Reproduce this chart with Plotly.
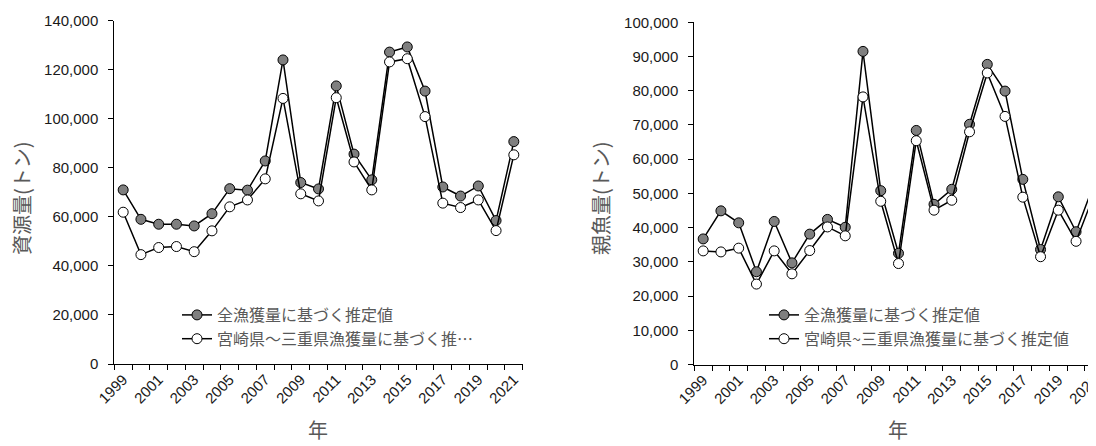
import plotly.graph_objects as go

years = list(range(1999, 2022))

# 資源量 (left)
stock_all = [71000, 59000, 57000, 57000, 56300, 61300, 71500, 70900, 82800, 124000,
             74000, 71400, 113400, 85600, 75100, 127200, 129300, 111300, 72200, 68500,
             72600, 58500, 90700]
stock_reg = [61900, 44600, 47500, 47900, 45800, 54300, 64100, 66900, 75500, 108300,
             69400, 66500, 108600, 82400, 71000, 123200, 124500, 100900, 65600, 63800,
             66900, 54400, 85300]

# 親魚量 (right)
spawn_all = [36700, 44900, 41400, 27100, 41800, 29700, 38100, 42400, 40100, 91500,
             50800, 32500, 68400, 46800, 51200, 70200, 87700, 79900, 54100, 33600,
             49000, 38800, 52600]
spawn_reg = [33200, 32900, 34000, 23500, 33200, 26500, 33300, 40200, 37600, 78200,
             47700, 29500, 65400, 45100, 48000, 68000, 85200, 72500, 48900, 31500,
             45100, 36000, 49500]

name_all = "全漁獲量に基づく推定値"
name_reg_left = "宮崎県～三重県漁獲量に基づく推…"
name_reg_right = "宮崎県~三重県漁獲量に基づく推定値"

tick_years = list(range(1999, 2022, 2))
tick_text = [str(y) for y in tick_years]
left_yticks = list(range(0, 140001, 20000))
right_yticks = list(range(0, 100001, 10000))

# page body has an 8px margin: the figure is drawn at (8, 8) in the window
OFF = 8
W, H = 1096 - OFF, 446 - OFF
NUM_FONT = "Arial, Liberation Sans, sans-serif"
CJK_FONT = "Noto Sans CJK JP, sans-serif"

def px_x(p):
    return (p - OFF) / W

def px_y(p):
    return 1 - (p - OFF) / H

fig = go.Figure()

def add_pair(xa, ya, y1, y2, n1, n2, legend):
    fig.add_trace(go.Scatter(
        x=years, y=y1, name=n1, mode="lines+markers", xaxis=xa, yaxis=ya,
        line=dict(color="black", width=1.5),
        marker=dict(symbol="circle", size=10, color="#7f7f7f", line=dict(color="black", width=1)),
        legend=legend, cliponaxis=True))
    fig.add_trace(go.Scatter(
        x=years, y=y2, name=n2, mode="lines+markers", xaxis=xa, yaxis=ya,
        line=dict(color="black", width=1.5),
        marker=dict(symbol="circle", size=10, color="white", line=dict(color="black", width=1)),
        legend=legend, cliponaxis=True))

add_pair("x", "y", stock_all, stock_reg, name_all, name_reg_left, "legend")
add_pair("x2", "y2", spawn_all, spawn_reg, name_all, name_reg_right, "legend2")

cat_w = (522.7 - 114.3) / 23.0
right_len = (1096 - 694.3) / cat_w

xcommon = dict(
    tickmode="array", tickvals=tick_years, ticktext=tick_text, tickangle=-45,
    ticks="", showline=True, linecolor="black", linewidth=1, showgrid=False, zeroline=False,
    automargin=False, ticklabeloverflow="allow",
    tickfont=dict(family=NUM_FONT, size=15, color="#1a1a1a"),
    minor=dict(ticks="outside", ticklen=5, tickcolor="black", tickwidth=1,
               tickvals=[y - 0.5 for y in range(1999, 2023)], showgrid=False),
)
ycommon = dict(
    tickmode="array", ticks="outside", ticklen=5, tickcolor="black", tickwidth=1,
    showline=True, linecolor="black", linewidth=1, showgrid=False, zeroline=False,
    automargin=False,
    tickfont=dict(family=NUM_FONT, size=15, color="#1a1a1a"), ticklabelstandoff=7,
)

fig.update_layout(
    width=W, height=H, margin=dict(l=0, r=0, t=0, b=0, autoexpand=False),
    paper_bgcolor="white", plot_bgcolor="white",
    xaxis=dict(domain=[px_x(114.3), px_x(522.7)], range=[1998.5, 2021.5], anchor="y", **xcommon),
    yaxis=dict(domain=[px_y(364.0), px_y(20.7)], range=[0, 140000], anchor="x",
               tickvals=left_yticks, ticktext=[f"{v:,}" for v in left_yticks], **ycommon),
    xaxis2=dict(domain=[px_x(694.3), 1.0], range=[1998.5, 1998.5 + right_len], anchor="y2", **xcommon),
    yaxis2=dict(domain=[px_y(364.5), px_y(22.3)], range=[0, 100000], anchor="x2",
                tickvals=right_yticks, ticktext=[f"{v:,}" for v in right_yticks], **ycommon),
    legend=dict(x=px_x(177), y=px_y(298), xanchor="left", yanchor="top",
                bgcolor="rgba(0,0,0,0)", borderwidth=0, itemwidth=30,
                font=dict(family=CJK_FONT, size=16, color="#595959"), tracegroupgap=0),
    legend2=dict(x=px_x(764), y=px_y(298), xanchor="left", yanchor="top",
                 bgcolor="rgba(0,0,0,0)", borderwidth=0, itemwidth=30,
                 font=dict(family=CJK_FONT, size=16, color="#595959"), tracegroupgap=0),
    showlegend=True,
)

annots = [
    dict(text="資源量(トン)", x=px_x(21), y=px_y(198), textangle=-90, yanchor="middle"),
    dict(text="親魚量(トン)", x=px_x(600), y=px_y(198), textangle=-90, yanchor="middle"),
    dict(text="年", x=px_x(318), y=px_y(446), textangle=0, yanchor="bottom"),
    dict(text="年", x=px_x(898), y=px_y(446), textangle=0, yanchor="bottom"),
]
for a in annots:
    fig.add_annotation(xref="paper", yref="paper", showarrow=False, xanchor="center",
                       font=dict(family=CJK_FONT, size=20, color="#595959"), **a)

fig.write_html("out.html")
